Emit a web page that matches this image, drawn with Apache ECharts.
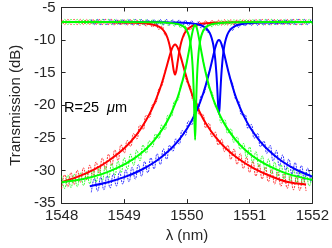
<!DOCTYPE html>
<html>
<head>
<meta charset="utf-8">
<script src="https://cdn.jsdelivr.net/npm/echarts@6/dist/echarts.min.js"></script>
<style>html,body{margin:0;padding:0;background:#fff;}#c{width:332px;height:248px;}</style>
</head>
<body>
<div id="c"></div>
<script>
// ---- tick values ----
const xTicks = [1548, 1549, 1550, 1551, 1552];
const yTicks = [-35, -30, -25, -20, -15, -10, -5];

// ---- measured wavelength grids (nm) ----
const measLambda = [1548,1548.05,1548.1,1548.15,1548.2,1548.25,1548.3,1548.35,1548.4,1548.45,
1548.5,1548.55,1548.6,1548.65,1548.7,1548.75,1548.8,1548.85,1548.9,1548.95,
1549,1549.05,1549.1,1549.15,1549.2,1549.25,1549.3,1549.35,1549.4,1549.45,
1549.5,1549.55,1549.6,1549.65,1549.7,1549.75,1549.8,1549.85,1549.9,1549.95,
1550,1550.05,1550.1,1550.15,1550.2,1550.25,1550.3,1550.35,1550.4,1550.45,
1550.5,1550.55,1550.6,1550.65,1550.7,1550.75,1550.8,1550.85,1550.9,1550.95,
1551,1551.05,1551.1,1551.15,1551.2,1551.25,1551.3,1551.35,1551.4,1551.45,
1551.5,1551.55,1551.6,1551.65,1551.7,1551.75,1551.8,1551.85,1551.9,1551.95,1552];

const blueLambda = [1548.475,1548.525,1548.575,1548.625,1548.675,1548.725,1548.775,1548.825,1548.875,1548.925,
1548.975,1549.025,1549.075,1549.125,1549.175,1549.225,1549.275,1549.325,1549.375,1549.425,
1549.475,1549.525,1549.575,1549.625,1549.675,1549.725,1549.775,1549.825,1549.875,1549.925,
1549.975,1550.025,1550.075,1550.125,1550.175,1550.225,1550.275,1550.325,1550.375,1550.425,
1550.475,1550.525,1550.575,1550.625,1550.675,1550.725,1550.775,1550.825,1550.875,1550.925,
1550.975,1551.025,1551.075,1551.125,1551.175,1551.225,1551.275,1551.325,1551.375,1551.425,
1551.475,1551.525,1551.575,1551.625,1551.675,1551.725,1551.775,1551.825,1551.875,1551.925,1551.975];

// ---- measured transmission (dB) ----
const redThruMeas = [-6.82,-7.62,-6.82,-7.62,-6.82,-7.62,-6.82,-7.62,-6.82,-7.62,
-6.82,-7.62,-6.82,-7.62,-6.82,-7.62,-6.82,-7.68,-6.88,-7.68,
-6.88,-7.68,-6.88,-7.68,-6.93,-7.76,-7.0,-7.85,-7.12,-8.02,
-7.34,-8.35,-7.9,-9.24,-9.6,null,null,null,null,-9.5,
-8.05,-8.45,-7.4,-8.07,-7.15,-7.88,-7.02,-7.79,-6.96,-7.74,
-6.93,-7.71,-6.88,-7.68,-6.88,-7.68,-6.88,-7.63,-6.83,-7.63,
-6.83,-7.63,-6.83,-7.63,-6.83,-7.63,-6.83,-7.63,-6.83,-7.63,
-6.83,-7.63,-6.83,-7.63,-6.83,-7.63,-6.83,-7.63,-6.83,null,null];

const redDropMeas = [-32.8,-30.65,-32.5,-30.33,-32.15,-29.97,-31.8,-29.6,-31.4,-29.18,
-30.95,-28.7,-30.4,-28.1,-29.8,-27.5,-29.2,-26.85,-28.45,-26.05,
-27.3,-25.4,-26.3,-24.35,-25.15,-23.05,-23.7,-21.55,-21.85,-19.9,
-19.75,-17.5,-17.0,-14.66,null,null,null,null,null,-14.0,
-16.45,-16.95,-19.3,-19.4,-21.45,-21.4,-23.45,-22.75,-24.8,-24.1,
-26.1,-25.2,-27.1,-26.15,-28.3,-26.7,-29.05,-27.4,-29.7,-28.0,
-30.3,-28.6,-30.85,-29.1,-31.3,-29.5,-31.72,-29.9,-32.07,-30.25,
-32.42,-30.58,-32.73,-30.85,-32.95,-31.0,-33.05,-31.1,-33.15,null,null];

const greenThruMeas = [-7.62,-6.82,-7.62,-6.82,-7.62,-6.82,-7.62,-6.82,-7.62,-6.82,
-7.62,-6.82,-7.62,-6.82,-7.62,-6.82,-7.62,-6.82,-7.62,-6.82,
-7.62,-6.82,-7.62,-6.82,-7.62,-6.82,-7.65,-6.85,-7.65,-6.85,
-7.68,-6.9,-7.72,-6.94,-7.76,-7.0,-7.85,-7.14,-8.1,-7.58,
-8.87,null,null,null,null,-8.45,-8.45,-7.35,-7.97,-7.07,
-7.81,-6.96,-7.73,-6.91,-7.7,-6.88,-7.65,-6.85,-7.65,-6.85,
-7.65,-6.82,-7.62,-6.82,-7.62,-6.82,-7.62,-6.82,-7.62,-6.82,
-7.62,-6.82,-7.62,-6.82,-7.62,-6.82,-7.62,-6.82,-7.62,-6.82,-7.62];

const greenDropMeas = [-30.8,-32.75,-30.7,-32.62,-30.55,-32.47,-30.38,-32.3,-30.18,-32.05,
-29.92,-31.78,-29.65,-31.52,-29.35,-31.15,-28.95,-30.75,-28.55,-30.3,
-28.05,-29.8,-27.5,-29.2,-26.85,-28.5,-26.1,-27.35,-25.45,-26.35,
-24.4,-25.1,-23.0,-23.75,-21.5,-21.7,-19.4,-19.3,-16.8,-15.8,
-12.98,null,null,null,null,-13.1,-14.8,-17.45,-18.0,-20.15,
-20.5,-22.7,-22.2,-24.3,-23.6,-25.7,-24.85,-26.75,-25.85,-28.0,
-26.4,-28.8,-27.1,-29.45,-27.75,-30.0,-28.25,-30.5,-28.7,-30.9,
-29.1,-31.3,-29.5,-31.65,-29.78,-31.9,-30.02,-32.15,-30.28,-32.38,-30.45];

const blueThruMeas = [-6.83,-7.63,-6.83,-7.63,-6.83,-7.63,-6.83,-7.63,-6.83,-7.63,
-6.83,-7.65,-6.85,-7.65,-6.85,-7.65,-6.85,-7.65,-6.85,-7.65,
-6.85,-7.65,-6.85,-7.65,-6.85,-7.69,-6.9,-7.7,-6.92,-7.74,
-6.96,-7.79,-7.03,-7.9,-7.2,-8.13,-7.55,-8.75,-8.85,null,
null,null,null,null,-8.3,-8.5,-7.43,-8.05,-7.14,-7.86,
-7.01,-7.77,-6.95,-7.73,-6.9,-7.68,-6.88,-7.68,-6.88,-7.68,
-6.88,-7.63,-6.83,-7.63,-6.83,-7.63,-6.83,-7.63,-6.83,-7.63,-6.83];

const blueDropMeas = [-33.35,-31.25,-33.15,-31.05,-32.95,-30.83,-32.68,-30.53,-32.38,-30.23,
-32.08,-29.91,-31.72,-29.52,-31.31,-29.1,-30.88,-28.63,-30.35,-28.05,
-29.75,-27.43,-29.08,-26.7,-28.28,-26.13,-27.05,-25.13,-25.95,-23.88,
-24.58,-22.43,-23.0,-20.9,-20.8,-18.58,-18.2,-15.6,-14.5,null,
null,null,null,null,-15.7,-16.55,-19.05,-19.33,-21.45,-21.45,
-23.55,-22.95,-25.05,-24.33,-26.35,-25.5,-27.38,-26.13,-28.55,-26.93,
-29.28,-27.63,-29.95,-28.25,-30.53,-28.78,-31.03,-29.25,-31.45,-29.65,-31.85];

// ---- fitted curves [lambda nm, dB] ----
const redThruFit = [[1548,-7.21],[1548.8,-7.26],[1549.16,-7.33],[1549.31,-7.41],[1549.41,-7.53],[1549.51,-7.76],[1549.56,-7.98],[1549.61,-8.35],[1549.65,-8.84],[1549.68,-9.41],[1549.71,-10.29],[1549.73,-11.11],[1549.75,-12.18],[1549.77,-13.47],[1549.79,-14.72],[1549.81,-15.3],[1549.83,-14.72],[1549.85,-13.47],[1549.87,-12.18],[1549.89,-11.11],[1549.91,-10.29],[1549.94,-9.41],[1549.97,-8.84],[1550.01,-8.35],[1550.06,-7.98],[1550.11,-7.76],[1550.21,-7.53],[1550.31,-7.41],[1550.46,-7.33],[1550.81,-7.26],[1551.9,-7.21]];

const redDropFit = [[1548,-31.8],[1548.25,-30.97],[1548.5,-29.95],[1548.75,-28.5],[1549,-26.6],[1549.2,-24.45],[1549.35,-22.25],[1549.45,-20.4],[1549.55,-18.0],[1549.61,-16.27],[1549.65,-14.96],[1549.68,-13.93],[1549.71,-12.88],[1549.73,-12.21],[1549.75,-11.61],[1549.77,-11.12],[1549.79,-10.8],[1549.81,-10.69],[1549.83,-10.8],[1549.85,-11.12],[1549.87,-11.61],[1549.89,-12.21],[1549.91,-12.88],[1549.94,-13.93],[1549.97,-14.96],[1550.01,-16.27],[1550.06,-17.73],[1550.11,-19.03],[1550.21,-21.18],[1550.31,-22.9],[1550.46,-24.93],[1550.61,-26.51],[1550.81,-28.13],[1551.06,-29.64],[1551.31,-30.76],[1551.61,-31.77],[1551.9,-32.15]];

const greenThruFit = [[1548,-7.21],[1549.48,-7.27],[1549.63,-7.31],[1549.73,-7.37],[1549.83,-7.49],[1549.88,-7.62],[1549.93,-7.83],[1549.97,-8.15],[1550,-8.57],[1550.03,-9.31],[1550.05,-10.14],[1550.07,-11.52],[1550.09,-13.93],[1550.1,-15.84],[1550.11,-18.54],[1550.12,-22.33],[1550.13,-25.3],[1550.14,-22.33],[1550.15,-18.54],[1550.16,-15.84],[1550.17,-13.93],[1550.19,-11.52],[1550.21,-10.14],[1550.23,-9.31],[1550.26,-8.57],[1550.29,-8.15],[1550.33,-7.83],[1550.38,-7.62],[1550.43,-7.49],[1550.53,-7.37],[1550.63,-7.31],[1550.78,-7.27],[1552,-7.21]];

const greenDropFit = [[1548,-31.8],[1548.33,-31.35],[1548.63,-30.6],[1548.88,-29.65],[1549.13,-28.33],[1549.33,-26.84],[1549.48,-25.34],[1549.63,-23.35],[1549.73,-21.6],[1549.83,-19.33],[1549.88,-17.92],[1549.93,-16.23],[1549.97,-14.64],[1550,-13.28],[1550.03,-11.76],[1550.05,-10.69],[1550.07,-9.62],[1550.09,-8.66],[1550.11,-7.95],[1550.13,-7.69],[1550.15,-7.95],[1550.17,-8.66],[1550.19,-9.62],[1550.21,-10.69],[1550.23,-11.76],[1550.26,-13.28],[1550.29,-14.64],[1550.33,-16.23],[1550.38,-17.92],[1550.43,-19.33],[1550.53,-21.6],[1550.63,-23.35],[1550.78,-25.34],[1550.93,-26.84],[1551.13,-28.33],[1551.38,-29.65],[1551.63,-30.6],[1552,-31.45]];

const blueThruFit = [[1548.45,-7.23],[1549.5,-7.23],[1549.71,-7.29],[1549.86,-7.31],[1550.01,-7.38],[1550.11,-7.48],[1550.21,-7.68],[1550.26,-7.88],[1550.31,-8.21],[1550.35,-8.68],[1550.38,-9.27],[1550.41,-10.25],[1550.43,-11.27],[1550.45,-12.8],[1550.47,-15.14],[1550.48,-16.73],[1550.49,-18.6],[1550.5,-20.43],[1550.51,-21.3],[1550.52,-20.43],[1550.53,-18.6],[1550.54,-16.73],[1550.55,-15.14],[1550.57,-12.8],[1550.59,-11.27],[1550.61,-10.25],[1550.64,-9.27],[1550.67,-8.68],[1550.71,-8.21],[1550.76,-7.88],[1550.81,-7.68],[1550.91,-7.48],[1551.01,-7.38],[1551.16,-7.31],[1551.31,-7.29],[1552,-7.23]];

const blueDropFit = [[1548.45,-32.4],[1548.71,-31.88],[1549.01,-30.98],[1549.26,-29.96],[1549.51,-28.54],[1549.71,-26.98],[1549.86,-25.45],[1550.01,-23.44],[1550.11,-21.7],[1550.21,-19.5],[1550.26,-18.15],[1550.31,-16.59],[1550.35,-15.17],[1550.38,-14.0],[1550.41,-12.78],[1550.43,-11.97],[1550.45,-11.21],[1550.47,-10.57],[1550.49,-10.14],[1550.51,-9.99],[1550.53,-10.14],[1550.55,-10.57],[1550.57,-11.21],[1550.59,-11.97],[1550.61,-12.78],[1550.64,-14.0],[1550.67,-15.17],[1550.71,-16.59],[1550.76,-18.15],[1550.81,-19.5],[1550.91,-21.7],[1551.01,-23.44],[1551.16,-25.45],[1551.31,-26.98],[1551.51,-28.54],[1551.76,-29.96],[1552,-30.94]];

const RED = '#ff0000', GREEN = '#00ff00', BLUE = '#0000ff';
const FONT = '"Liberation Sans", Arial, Helvetica, sans-serif';
const AX = '#262626';

function pairs(xs, ys) { return xs.map((x, i) => [x, ys[i] === null ? null : ys[i]]); }

function meas(name, xs, ys, color) {
  return { name, type: 'line', data: pairs(xs, ys), showSymbol: false, symbol: 'none',
    smooth: 0.5, connectNulls: false, z: 1, silent: true,
    lineStyle: { color, width: 1, type: [2, 1], opacity: 0.8 } };
}
function fit(name, data, color) {
  return { name, type: 'line', data, showSymbol: false, symbol: 'none',
    smooth: 0.25, z: 3, silent: true, lineStyle: { color, width: 2 } };
}

const chart = echarts.init(document.getElementById('c'), null, { renderer: 'canvas' });
const axisCommon = {
  axisLine: { show: true, onZero: false, lineStyle: { color: AX, width: 1 } },
  axisTick: { show: true, inside: true, length: 4, lineStyle: { color: AX, width: 1 } },
  splitLine: { show: false }
};
chart.setOption({
  animation: false,
  backgroundColor: '#fff',
  grid: { left: 50, right: 17, top: 5, bottom: 41, containLabel: false },
  xAxis: [
    Object.assign({ type: 'value', min: xTicks[0], max: xTicks[xTicks.length - 1], interval: 1, position: 'bottom',
      axisLabel: { margin: 5, fontSize: 15, color: AX, fontFamily: FONT, formatter: v => String(v) },
      name: 'λ (nm)', nameLocation: 'middle', nameGap: 23,
      nameTextStyle: { fontSize: 15, color: AX, fontFamily: FONT } }, axisCommon),
    Object.assign({ type: 'value', min: xTicks[0], max: xTicks[xTicks.length - 1], interval: 1, position: 'top',
      axisLabel: { show: false } }, axisCommon)
  ],
  yAxis: [
    Object.assign({ type: 'value', min: yTicks[0], max: yTicks[yTicks.length - 1], interval: 5, position: 'left',
      axisLabel: { margin: 6, fontSize: 15, color: AX, fontFamily: FONT, formatter: v => String(v) },
      name: 'Transmission (dB)', nameLocation: 'middle', nameGap: 33,
      nameTextStyle: { fontSize: 15, color: AX, fontFamily: FONT } }, axisCommon),
    Object.assign({ type: 'value', min: yTicks[0], max: yTicks[yTicks.length - 1], interval: 5, position: 'right',
      axisLabel: { show: false } }, axisCommon)
  ],
  graphic: [{
    type: 'text', left: 64, top: 100, silent: true,
    style: { text: 'R=25  {i|μ}m', font: '14.5px ' + FONT, fill: '#000',
      rich: { i: { fontStyle: 'italic', fontSize: 14.5, fontFamily: FONT, fill: '#000' } } }
  }],
  series: [
    meas('redThruMeas', measLambda, redThruMeas, RED),
    meas('redDropMeas', measLambda, redDropMeas, RED),
    meas('greenThruMeas', measLambda, greenThruMeas, GREEN),
    meas('greenDropMeas', measLambda, greenDropMeas, GREEN),
    meas('blueThruMeas', blueLambda, blueThruMeas, BLUE),
    meas('blueDropMeas', blueLambda, blueDropMeas, BLUE),
    fit('redThruFit', redThruFit, RED),
    fit('redDropFit', redDropFit, RED),
    fit('blueThruFit', blueThruFit, BLUE),
    fit('blueDropFit', blueDropFit, BLUE),
    fit('greenThruFit', greenThruFit, GREEN),
    fit('greenDropFit', greenDropFit, GREEN)
  ]
});
</script>
</body>
</html>
